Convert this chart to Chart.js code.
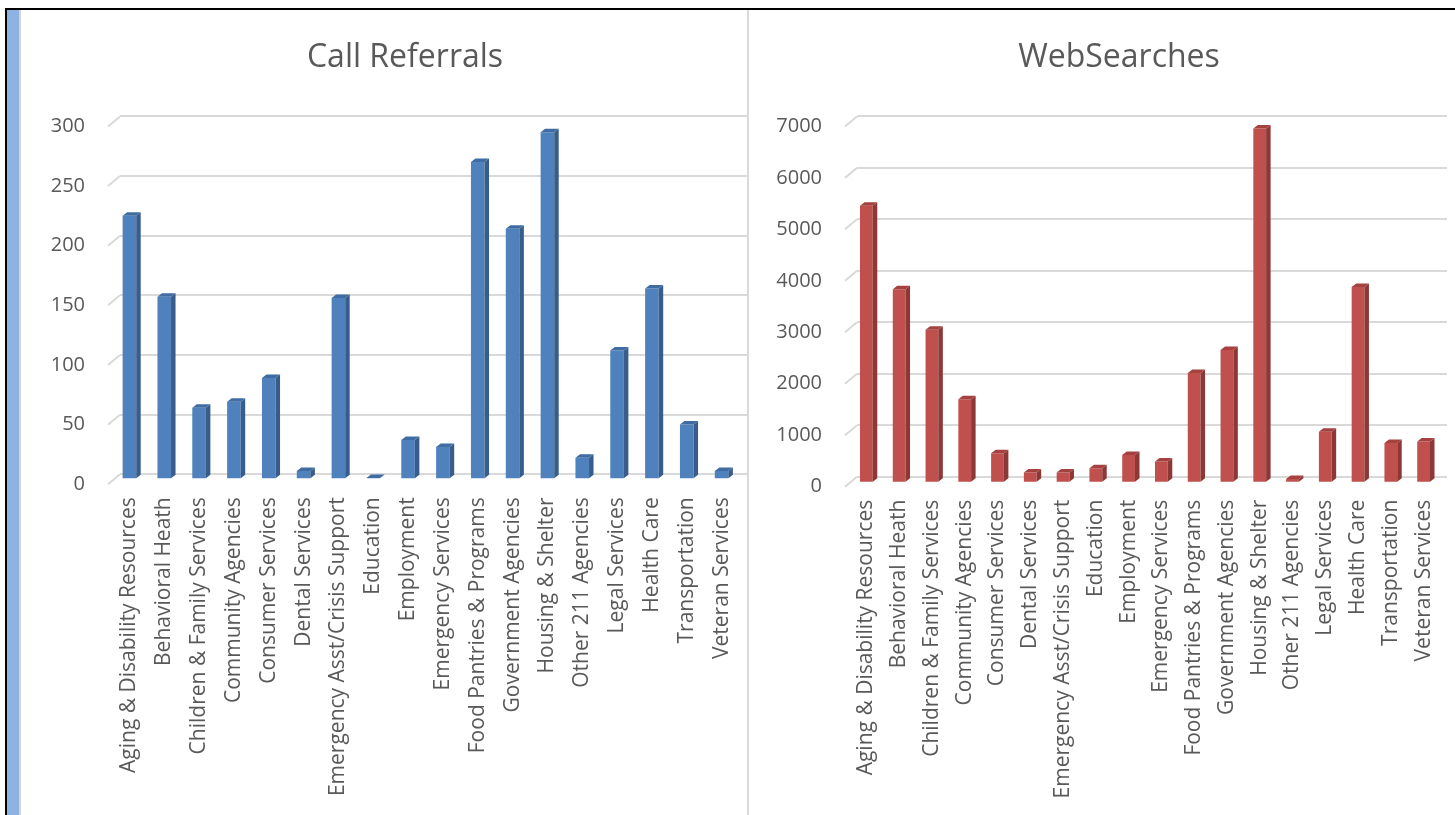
<!DOCTYPE html>
<html>
<head>
<meta charset="utf-8">
<title>Call Referrals / WebSearches</title>
<script src="https://cdn.jsdelivr.net/npm/chart.js@4.4.0/dist/chart.umd.min.js"></script>
<style>
  html, body { margin: 0; padding: 0; background: #fff; }
  body { width: 1455px; height: 815px; position: relative; overflow: hidden; font-family: "Open Sans", sans-serif; }
  /* marco de la pagina */
  #lineaTop { position: absolute; left: 5px; top: 8px; width: 1450px; height: 2px; background: #000; }
  #lineaIzq { position: absolute; left: 5px; top: 8px; width: 2px; height: 807px; background: #000; }
  #franja { position: absolute; left: 7px; top: 10px; width: 12px; height: 805px; background: #8db3e2; }
  #franja2 { position: absolute; left: 19px; top: 10px; width: 2px; height: 805px; background: #d4d4d4; }
  #divisor { position: absolute; left: 747px; top: 10px; width: 2px; height: 805px; background: #d9d9d9; }
  .caja { position: absolute; top: 10px; height: 805px; }
  #cajaLlamadas { left: 49px; width: 712px; }
  #cajaWeb { left: 770px; width: 698px; }
</style>
</head>
<body>
<div id="lineaTop"></div>
<div id="lineaIzq"></div>
<div id="franja"></div>
<div id="franja2"></div>
<div id="divisor"></div>
<div class="caja" id="cajaLlamadas"><canvas id="llamadasChart"></canvas></div>
<div class="caja" id="cajaWeb"><canvas id="webChart"></canvas></div>

<script>
// Datos
const categorias = [
  'Aging & Disability Resources',
  'Behavioral Heath',
  'Children & Family Services',
  'Community Agencies',
  'Consumer Services',
  'Dental Services',
  'Emergency Asst/Crisis Support',
  'Education',
  'Employment',
  'Emergency Services',
  'Food Pantries & Programs',
  'Government Agencies',
  'Housing & Shelter',
  'Other 211 Agencies',
  'Legal Services',
  'Health Care',
  'Transportation',
  'Veteran Services',
];
const llamadas = [221, 153, 60, 65, 85, 7, 152, 1, 33, 27, 266, 210, 291, 18, 108, 160, 46, 7];
const busquedas = [5380, 3760, 2970, 1620, 570, 200, 200, 280, 540, 410, 2130, 2580, 6880, 70, 990, 3800, 770, 800];
const ticksLlamadas = [0, 50, 100, 150, 200, 250, 300];
const ticksWeb = [0, 1000, 2000, 3000, 4000, 5000, 6000, 7000];

const fuente = '"Open Sans", "Noto Sans", sans-serif';
const gris = '#595959';

// Plugin: piso en diagonal + caras laterales de las barras (efecto 3D)
const efecto3D = {
  id: 'efecto3D',
  beforeDatasetsDraw(chart, args, opts) {
    const ctx = chart.ctx;
    const escalaY = chart.scales.y;
    const left = chart.chartArea.left;
    ctx.save();
    ctx.strokeStyle = '#d9d9d9';
    ctx.lineWidth = 2;
    escalaY.ticks.forEach(t => {
      const py = escalaY.getPixelForValue(t.value);
      ctx.beginPath();
      ctx.moveTo(left - 12, py + 10);
      ctx.lineTo(left, py);
      ctx.stroke();
    });
    ctx.restore();
    ctx.save();
    ctx.translate(opts.dx, opts.dy);
  },
  afterDatasetsDraw(chart, args, opts) {
    const ctx = chart.ctx;
    const d = 4.5, e = 3.5;
    chart.getDatasetMeta(0).data.forEach(barra => {
      const { x, y, base, width } = barra.getProps(['x', 'y', 'base', 'width'], true);
      const izq = x - width / 2;
      const der = x + width / 2;
      ctx.fillStyle = opts.lado;
      ctx.beginPath();
      ctx.moveTo(der, y);
      ctx.lineTo(der + d, y - e);
      ctx.lineTo(der + d, base - e);
      ctx.lineTo(der, base);
      ctx.closePath();
      ctx.fill();
      ctx.fillStyle = opts.tapa;
      ctx.beginPath();
      ctx.moveTo(izq, y);
      ctx.lineTo(izq + d, y - e);
      ctx.lineTo(der + d, y - e);
      ctx.lineTo(der, y);
      ctx.closePath();
      ctx.fill();
    });
    ctx.restore();
  },
};

function crearGrafica(id, titulo, valores, ticks, colores, medidas) {
  const ctx = document.getElementById(id).getContext('2d');
  return new Chart(ctx, {
    type: 'bar',
    data: {
      labels: categorias,
      datasets: [{
        label: titulo,
        data: valores,
        backgroundColor: colores.frente,
        borderWidth: 0,
        barPercentage: 0.39,
        categoryPercentage: 1,
      }],
    },
    options: {
      responsive: true,
      maintainAspectRatio: false,
      animation: false,
      layout: { padding: 0 },
      plugins: {
        legend: { display: false },
        tooltip: { enabled: false },
        title: {
          display: true,
          text: titulo,
          color: gris,
          font: { family: fuente, size: 32, weight: 'normal' },
          padding: { top: 29, bottom: 39 },
        },
        efecto3D: { dx: medidas.dx, dy: medidas.dy, lado: colores.lado, tapa: colores.tapa },
      },
      scales: {
        x: {
          grid: { display: false },
          border: { display: false },
          ticks: {
            color: gris,
            font: { family: fuente, size: 21 },
            minRotation: 90,
            maxRotation: 90,
            autoSkip: false,
            padding: 15,
            labelOffset: medidas.dx,
          },
          afterFit(scale) {
            scale.height = medidas.altoX;
            // sin margen extra por las etiquetas giradas
            scale.paddingLeft = 0;
            scale.paddingRight = 0;
          },
        },
        y: {
          min: ticks[0],
          max: ticks[ticks.length - 1],
          grid: { color: '#d9d9d9', lineWidth: 2, drawTicks: false },
          border: { display: false },
          ticks: {
            stepSize: ticks[1] - ticks[0],
            color: gris,
            font: { family: fuente, size: 20 },
            padding: 35,
            labelOffset: 10,
            callback: v => String(v),
          },
          afterFit(scale) { scale.width = medidas.anchoY; },
        },
        // eje vacio a la derecha, solo deja margen (el titulo queda centrado en el canvas)
        relleno: {
          type: 'linear',
          position: 'right',
          grid: { display: false, drawTicks: false },
          border: { display: false },
          ticks: { display: false },
          afterFit(scale) { scale.width = medidas.padDer; },
        },
      },
    },
    plugins: [efecto3D],
  });
}

crearGrafica('llamadasChart', 'Call Referrals', llamadas, ticksLlamadas,
  { frente: '#4f81bd', lado: '#385d8a', tapa: '#3f6ca3' },
  { padDer: 14, anchoY: 71, altoX: 340.7, dx: -8, dy: 5 });

crearGrafica('webChart', 'WebSearches', busquedas, ticksWeb,
  { frente: '#c0504d', lado: '#8c3836', tapa: '#a5413e' },
  { padDer: 21, anchoY: 87, altoX: 338.3, dx: -7, dy: 6 });
</script>
</body>
</html>
